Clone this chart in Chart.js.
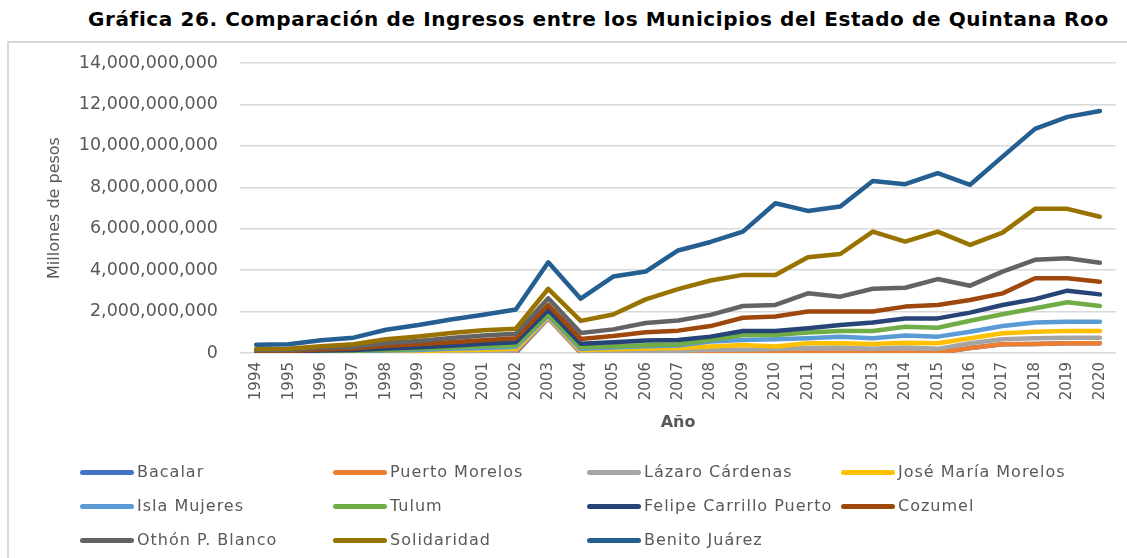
<!DOCTYPE html>
<html>
<head>
<meta charset="utf-8">
<script src="https://cdn.jsdelivr.net/npm/chart.js@4.4.1/dist/chart.umd.min.js"></script>
<style>
	body { margin: 0; background: #fff; }
	#wrap { position: relative; width: 1127px; height: 558px; overflow: hidden; }
	#frame { position: absolute; left: 7px; top: 41px; width: 1200px; height: 600px;
		border-left: 2px solid #d9d9d9; border-top: 2px solid #d9d9d9; }
	#titulo { position: absolute; left: 88px; top: 7px; white-space: nowrap;
		font: bold 20px "DejaVu Sans"; letter-spacing: 0.6px; color: #000; line-height: 24px; }
	#chart { position: absolute; left: 0; top: 0; }
	.item { position: absolute; height: 20px; white-space: nowrap;
		font: 16px "DejaVu Sans"; letter-spacing: 1px; color: #595959; line-height: 20px; }
	.item span.linea { position: absolute; left: 0; top: 8px; width: 54px; height: 5px; border-radius: 3px; }
	.item span.txt { position: absolute; left: 57px; top: 0; }
</style>
</head>
<body>
<div id="wrap">
	<div id="frame"></div>
	<div id="titulo">Gráfica 26. Comparación de Ingresos entre los Municipios del Estado de Quintana Roo</div>
	<canvas id="chart" width="1127" height="558"></canvas>
	<div id="leyenda"></div>
</div>
<script>
// años (eje x)
const years = ['1994','1995','1996','1997','1998','1999','2000','2001','2002','2003','2004','2005','2006',
	'2007','2008','2009','2010','2011','2012','2013','2014','2015','2016','2017','2018','2019','2020'];

// municipios y colores
const municipios = ['Bacalar','Puerto Morelos','Lázaro Cárdenas','José María Morelos','Isla Mujeres','Tulum',
	'Felipe Carrillo Puerto','Cozumel','Othón P. Blanco','Solidaridad','Benito Juárez'];
const colores = ['#4472C4','#ED7D31','#A5A5A5','#FFC000','#5B9BD5','#70AD47',
	'#264478','#9E480E','#636363','#997300','#255E91'];

// ingresos en miles de millones de pesos
const bacalar = [0.01,0.01,0.01,0.01,0.01,0.01,0.01,0.01,0.01,1.68,0.01,0.01,0.01,0.01,0.01,0.01,0.01,0.01,0.01,0.01,0.01,0.01,0.24,0.42,0.44,0.47,0.47];
const puertoMorelos = [0.01,0.01,0.01,0.02,0.02,0.03,0.04,0.05,0.06,1.7,0.01,0.01,0.01,0.01,0.01,0.01,0.01,0.01,0.01,0.01,0.01,0.02,0.24,0.42,0.44,0.47,0.47];
const lazaroCardenas = [0.02,0.02,0.03,0.04,0.05,0.06,0.08,0.1,0.12,1.72,0.08,0.1,0.11,0.11,0.16,0.16,0.19,0.24,0.27,0.2,0.27,0.2,0.47,0.66,0.71,0.74,0.74];
const joseMariaMorelos = [0.02,0.03,0.04,0.05,0.08,0.1,0.13,0.16,0.2,1.75,0.14,0.18,0.22,0.24,0.31,0.39,0.31,0.47,0.47,0.44,0.5,0.47,0.71,0.95,1.03,1.06,1.06];
const islaMujeres = [0.03,0.04,0.06,0.08,0.12,0.15,0.2,0.24,0.3,1.8,0.2,0.27,0.32,0.36,0.55,0.63,0.66,0.71,0.79,0.71,0.84,0.79,1.03,1.3,1.47,1.51,1.51];
const tulum = [0.04,0.05,0.07,0.1,0.15,0.2,0.26,0.32,0.38,1.87,0.28,0.33,0.38,0.42,0.63,0.87,0.87,0.99,1.06,1.06,1.27,1.22,1.56,1.87,2.16,2.45,2.27];
const felipeCarrillo = [0.07,0.08,0.12,0.15,0.22,0.28,0.35,0.45,0.52,2.08,0.45,0.52,0.6,0.63,0.79,1.06,1.06,1.19,1.35,1.47,1.67,1.67,1.95,2.32,2.6,3.01,2.83];
const cozumel = [0.1,0.1,0.17,0.22,0.35,0.42,0.52,0.62,0.71,2.32,0.68,0.82,1.0,1.08,1.3,1.7,1.76,2.0,2.0,2.0,2.24,2.32,2.56,2.88,3.61,3.61,3.44];
const othonBlanco = [0.14,0.15,0.25,0.3,0.48,0.58,0.72,0.85,0.93,2.64,0.97,1.14,1.45,1.57,1.84,2.27,2.32,2.88,2.72,3.1,3.15,3.57,3.25,3.93,4.5,4.57,4.36];
const solidaridad = [0.19,0.2,0.33,0.42,0.66,0.8,0.97,1.1,1.17,3.1,1.55,1.86,2.59,3.08,3.5,3.77,3.77,4.62,4.78,5.86,5.38,5.86,5.22,5.81,6.96,6.96,6.58];
const benitoJuarez = [0.4,0.42,0.62,0.74,1.12,1.35,1.62,1.85,2.1,4.38,2.62,3.69,3.93,4.95,5.36,5.86,7.23,6.86,7.07,8.3,8.15,8.68,8.12,9.48,10.82,11.4,11.68];

const series = [bacalar, puertoMorelos, lazaroCardenas, joseMariaMorelos, islaMujeres, tulum,
	felipeCarrillo, cozumel, othonBlanco, solidaridad, benitoJuarez];

// datasets (la ultima serie se dibuja encima, como en Excel)
const datasets = municipios.map((nombre, i) => ({
	label: nombre,
	data: series[i].map(v => Math.round(v * 1e9)),
	borderColor: colores[i],
	backgroundColor: colores[i],
	borderWidth: 4.5,
	pointRadius: 0,
	tension: 0,
	fill: false,
	borderJoinStyle: 'round',
	borderCapStyle: 'round',
	order: municipios.length - i
}));

new Chart(document.getElementById('chart').getContext('2d'), {
	type: 'line',
	data: { labels: years, datasets: datasets },
	options: {
		responsive: false,
		animation: false,
		layout: { padding: { top: 63, left: 0, right: 5, bottom: 115 } },
		plugins: {
			legend: { display: false },
			tooltip: { enabled: false }
		},
		scales: {
			y: {
				min: 0,
				max: 14000000000,
				border: { display: false },
				grid: { color: '#d9d9d9', lineWidth: 1.5, drawTicks: false },
				ticks: {
					stepSize: 2000000000,
					padding: 22,
					color: '#595959',
					font: { family: 'DejaVu Sans', size: 17.5 },
					callback: v => v.toLocaleString('en-US')
				},
				title: {
					display: true, text: 'Millones de pesos',
					color: '#595959',
					font: { family: 'DejaVu Sans', size: 16 },
					padding: { top: 45 }
				},
				afterFit: s => { s.width = 240; }
			},
			x: {
				offset: true,
				border: { display: false },
				grid: { display: false, drawTicks: false },
				ticks: {
					autoSkip: false,
					minRotation: 90,
					maxRotation: 90,
					padding: 9,
					color: '#595959',
					font: { family: 'DejaVu Sans', size: 15 }
				},
				title: {
					display: true, text: 'Año',
					color: '#595959',
					font: { family: 'DejaVu Sans', size: 16, weight: 'bold' },
					padding: { bottom: 11 }
				},
				afterFit: s => { s.height = 90; }
			}
		}
	}
});

// leyenda en 4 columnas
const colX = [80, 333, 587, 841];
const rowY = [462, 496, 530];
const leyenda = document.getElementById('leyenda');
municipios.forEach((nombre, i) => {
	const div = document.createElement('div');
	div.className = 'item';
	div.style.left = colX[i % 4] + 'px';
	div.style.top = rowY[Math.floor(i / 4)] + 'px';
	div.innerHTML = `<span class="linea" style="background:${colores[i]}"></span><span class="txt">${nombre}</span>`;
	leyenda.appendChild(div);
});
</script>
</body>
</html>
